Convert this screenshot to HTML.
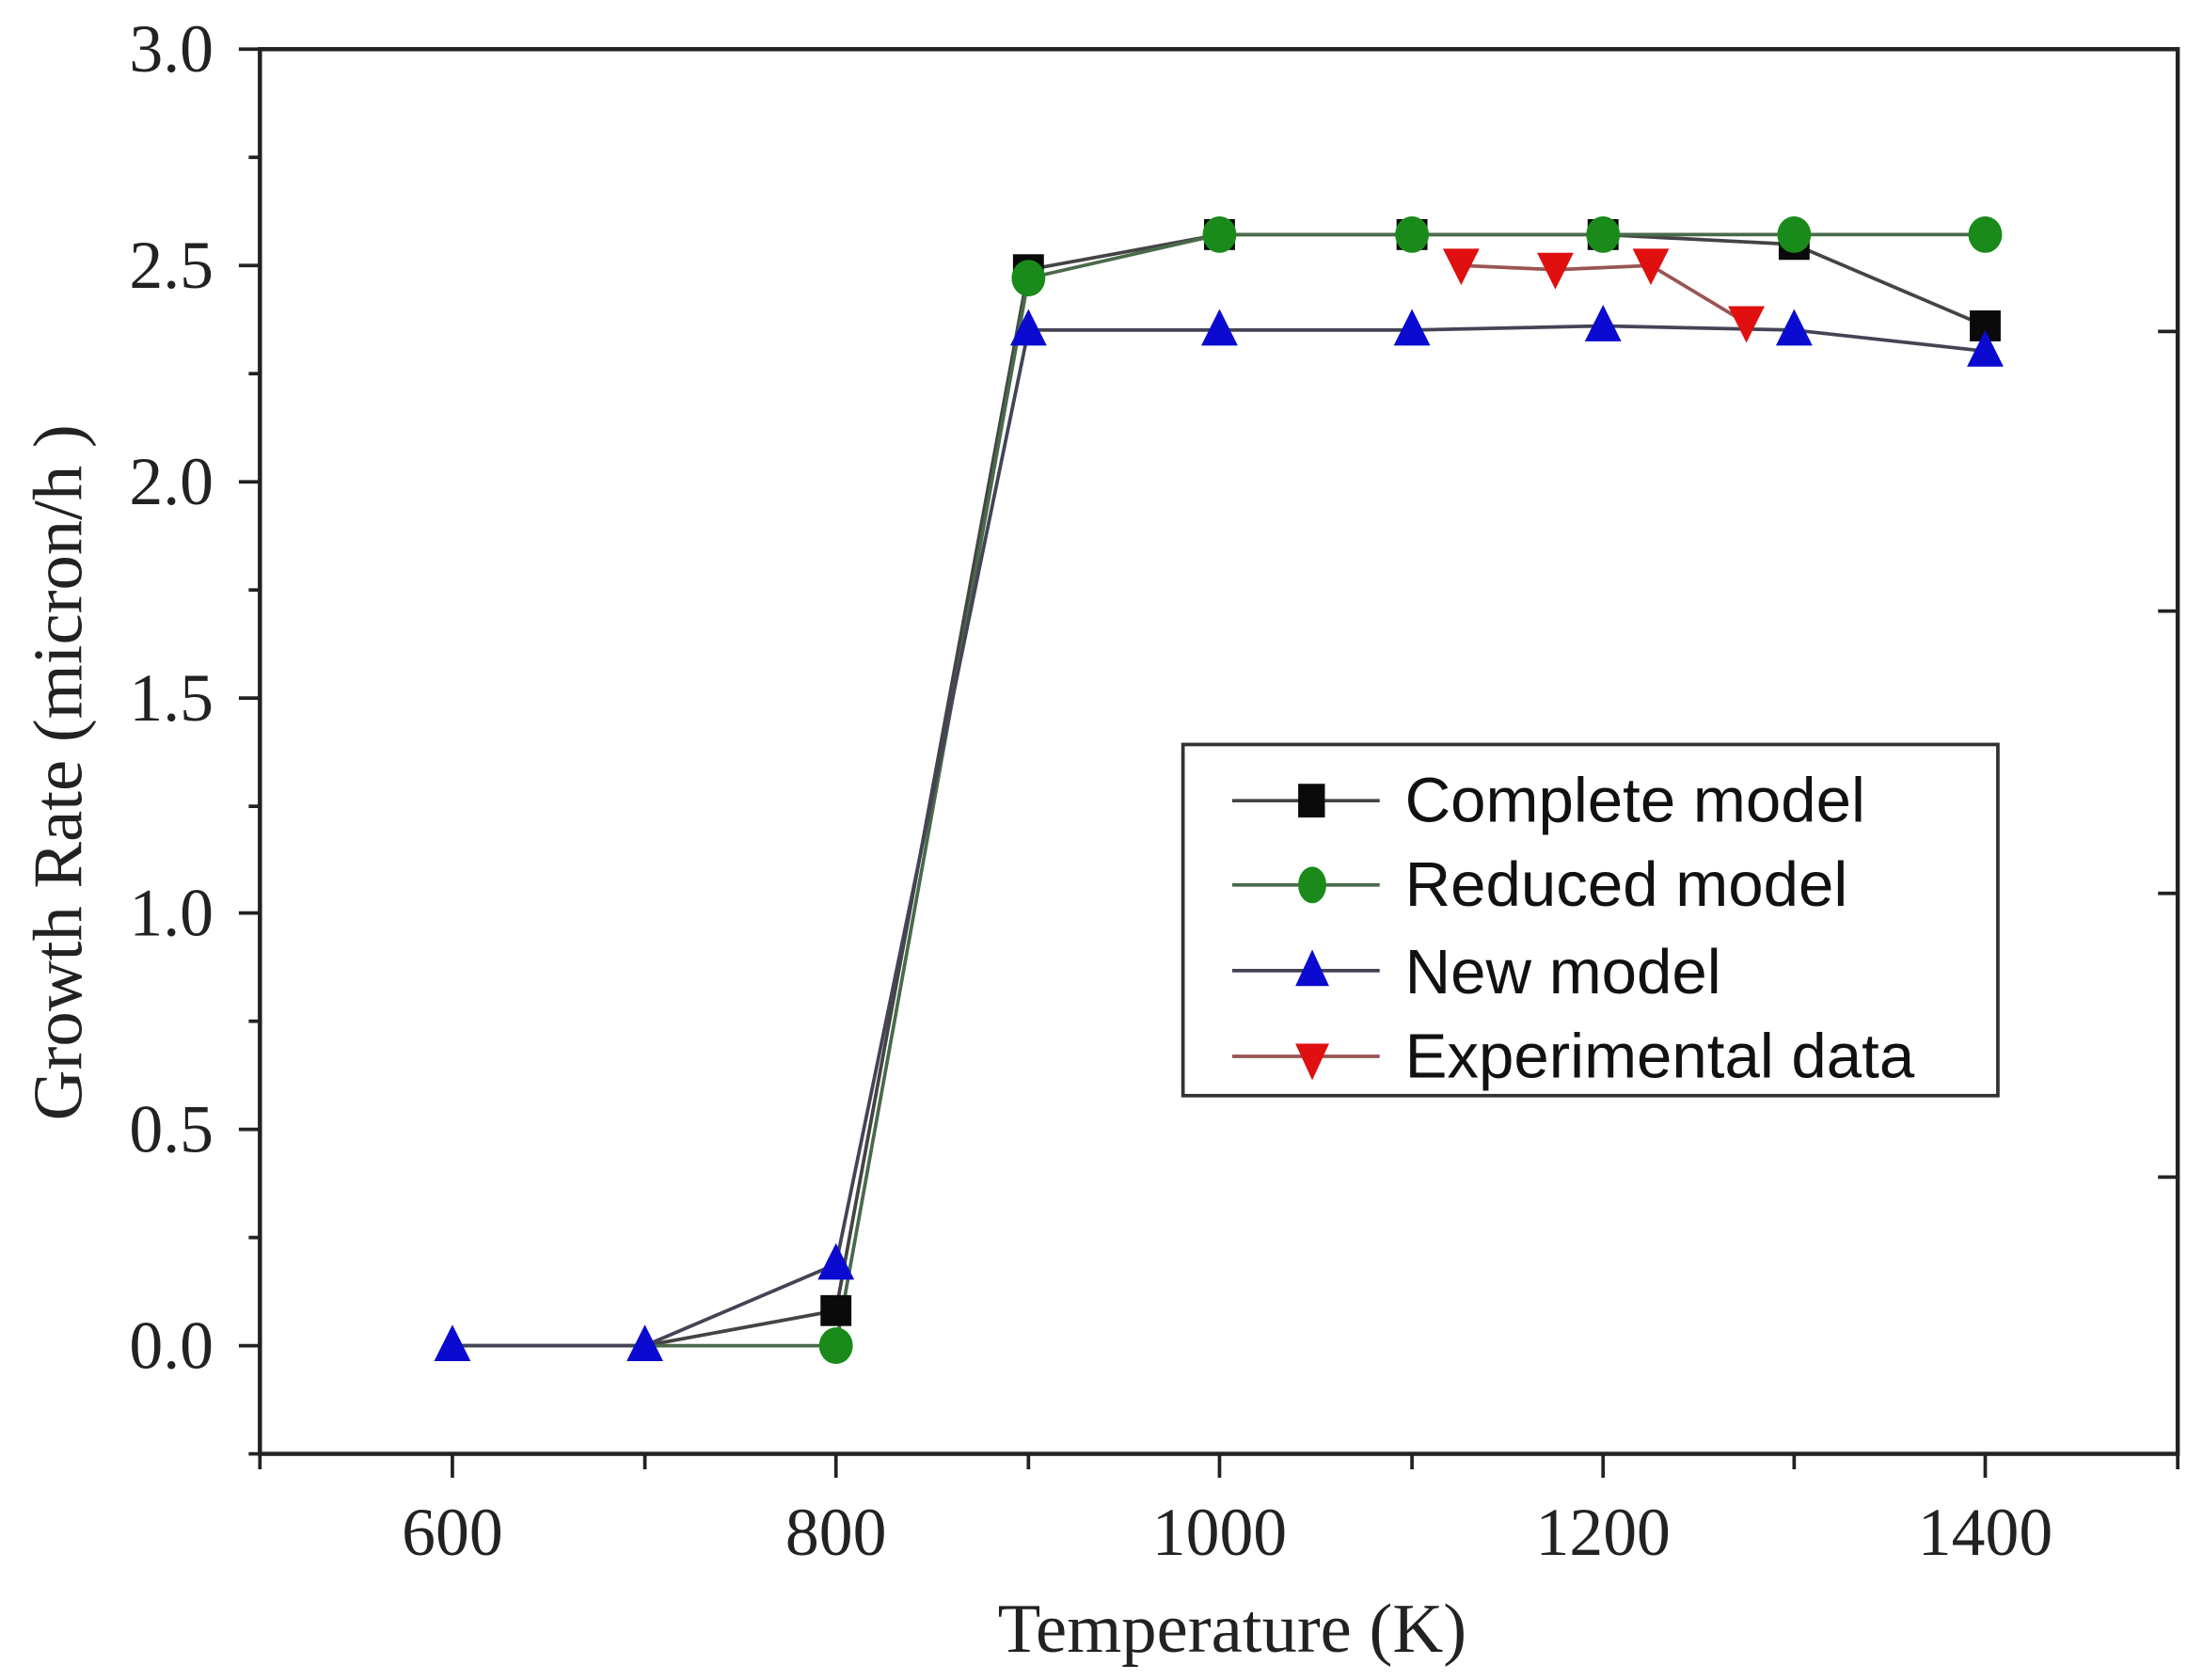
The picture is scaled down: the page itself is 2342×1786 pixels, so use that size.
<!DOCTYPE html>
<html><head><meta charset="utf-8"><style>
html,body{margin:0;padding:0;background:#fff;}
svg{display:block;}
</style></head><body>
<svg width="2342" height="1786" viewBox="0 0 1568 1196" preserveAspectRatio="none" xmlns="http://www.w3.org/2000/svg">
<rect width="1568" height="1196" fill="#fff"/>
<g stroke="#222" stroke-width="3" fill="none">
<rect x="185" y="35" width="1365" height="1000"/>
</g>
<g stroke="#222" stroke-width="2.5">
<line x1="170" y1="35" x2="185" y2="35"/>
<line x1="170" y1="189" x2="185" y2="189"/>
<line x1="170" y1="343" x2="185" y2="343"/>
<line x1="170" y1="497" x2="185" y2="497"/>
<line x1="170" y1="650" x2="185" y2="650"/>
<line x1="170" y1="804" x2="185" y2="804"/>
<line x1="170" y1="958" x2="185" y2="958"/>
<line x1="177" y1="112" x2="185" y2="112"/>
<line x1="177" y1="266" x2="185" y2="266"/>
<line x1="177" y1="420" x2="185" y2="420"/>
<line x1="177" y1="574" x2="185" y2="574"/>
<line x1="177" y1="727" x2="185" y2="727"/>
<line x1="177" y1="881" x2="185" y2="881"/>
<line x1="177" y1="1035" x2="185" y2="1035"/>
<line x1="322" y1="1035" x2="322" y2="1052"/>
<line x1="595" y1="1035" x2="595" y2="1052"/>
<line x1="868" y1="1035" x2="868" y2="1052"/>
<line x1="1141" y1="1035" x2="1141" y2="1052"/>
<line x1="1413" y1="1035" x2="1413" y2="1052"/>
<line x1="185" y1="1035" x2="185" y2="1046"/>
<line x1="459" y1="1035" x2="459" y2="1046"/>
<line x1="732" y1="1035" x2="732" y2="1046"/>
<line x1="1005" y1="1035" x2="1005" y2="1046"/>
<line x1="1277" y1="1035" x2="1277" y2="1046"/>
<line x1="1550" y1="1035" x2="1550" y2="1046"/>
<line x1="1536" y1="236" x2="1550" y2="236"/>
<line x1="1536" y1="435" x2="1550" y2="435"/>
<line x1="1536" y1="636" x2="1550" y2="636"/>
<line x1="1536" y1="838" x2="1550" y2="838"/>
</g>
<g font-family="Liberation Serif, serif" font-size="48" fill="#222" text-anchor="end">
<text x="152" y="51">3.0</text>
<text x="152" y="205">2.5</text>
<text x="152" y="359">2.0</text>
<text x="152" y="513">1.5</text>
<text x="152" y="666">1.0</text>
<text x="152" y="820">0.5</text>
<text x="152" y="974">0.0</text>
</g>
<g font-family="Liberation Serif, serif" font-size="48" fill="#222" text-anchor="middle">
<text x="322" y="1107">600</text>
<text x="595" y="1107">800</text>
<text x="868" y="1107">1000</text>
<text x="1141" y="1107">1200</text>
<text x="1413" y="1107">1400</text>
<text x="877" y="1176" font-size="50">Temperature (K)</text>
<text transform="translate(58,550) rotate(-90)" font-size="50">Growth Rate (micron/h )</text>
</g>
<g fill="none" stroke-width="2.5">
<polyline stroke="#444" points="322,958 459,958 595,933 732,192 868,167 1005,167 1141,167 1277,174 1413,232"/>
<polyline stroke="#4a6a4a" points="322,958 459,958 595,958 732,198 868,167 1005,167 1141,167 1277,167 1413,167"/>
<polyline stroke="#445" points="322,958 459,958 595,900 732,235 868,235 1005,235 1141,232 1277,235 1413,250"/>
<polyline stroke="#955" points="1040,189 1107,192 1175,189 1243,230"/>
</g>
<g fill="#0a0a0a">
<rect x="584" y="922" width="22" height="22"/>
<rect x="721" y="181" width="22" height="22"/>
<rect x="857" y="156" width="22" height="22"/>
<rect x="994" y="156" width="22" height="22"/>
<rect x="1130" y="156" width="22" height="22"/>
<rect x="1266" y="163" width="22" height="22"/>
<rect x="1402" y="221" width="22" height="22"/>
</g>
<g fill="#1a8a1a">
<ellipse cx="595" cy="958" rx="12" ry="13"/>
<ellipse cx="732" cy="198" rx="12" ry="13"/>
<ellipse cx="868" cy="167" rx="12" ry="13"/>
<ellipse cx="1005" cy="167" rx="12" ry="13"/>
<ellipse cx="1141" cy="167" rx="12" ry="13"/>
<ellipse cx="1277" cy="167" rx="12" ry="13"/>
<ellipse cx="1413" cy="167" rx="12" ry="13"/>
</g>
<g fill="#0a0ad0">
<path d="M322,943 l-13,26 h26 z"/>
<path d="M459,943 l-13,26 h26 z"/>
<path d="M595,885 l-13,26 h26 z"/>
<path d="M732,220 l-13,26 h26 z"/>
<path d="M868,220 l-13,26 h26 z"/>
<path d="M1005,220 l-13,26 h26 z"/>
<path d="M1141,217 l-13,26 h26 z"/>
<path d="M1277,220 l-13,26 h26 z"/>
<path d="M1413,235 l-13,26 h26 z"/>
</g>
<g fill="#e01010">
<path d="M1040,203 l-13,-26 h26 z"/>
<path d="M1107,206 l-13,-26 h26 z"/>
<path d="M1175,203 l-13,-26 h26 z"/>
<path d="M1243,244 l-13,-26 h26 z"/>
</g>
<rect x="842" y="530" width="580" height="250" fill="#fff" stroke="#333" stroke-width="2.5"/>
<g stroke-width="2.5">
<line x1="877" y1="570" x2="982" y2="570" stroke="#444"/>
<line x1="877" y1="630" x2="982" y2="630" stroke="#4a6a4a"/>
<line x1="877" y1="691" x2="982" y2="691" stroke="#445"/>
<line x1="877" y1="752" x2="982" y2="752" stroke="#955"/>
</g>
<rect x="924" y="558" width="19" height="24" fill="#0a0a0a"/>
<ellipse cx="934" cy="630" rx="10" ry="13" fill="#1a8a1a"/>
<path d="M934,676 l-12,26 h24 z" fill="#0a0ad0"/>
<path d="M934,769 l-12,-26 h24 z" fill="#e01010"/>
<g font-family="Liberation Sans, sans-serif" font-size="45" fill="#111">
<text x="1000" y="585">Complete model</text>
<text x="1000" y="645">Reduced model</text>
<text x="1000" y="707">New model</text>
<text x="1000" y="767">Experimental data</text>
</g>
</svg>
</body></html>
